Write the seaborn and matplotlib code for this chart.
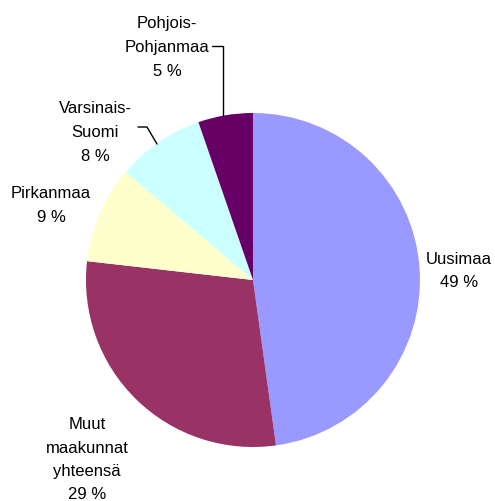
import matplotlib
matplotlib.use("Agg")
import matplotlib.pyplot as plt
import seaborn as sns

# Data
regions = ["Uusimaa", "Muut maakunnat yhteensä", "Pirkanmaa", "Varsinais-Suomi", "Pohjois-Pohjanmaa"]
shares = [47.8, 29.0, 9.4, 8.5, 5.3]
label_lines = [["Uusimaa", "49 %"],
               ["Muut", "maakunnat", "yhteensä", "29 %"],
               ["Pirkanmaa", "9 %"],
               ["Varsinais-", "Suomi", "8 %"],
               ["Pohjois-", "Pohjanmaa", "5 %"]]
colors = ["#9999FF", "#993366", "#FFFFCC", "#CCFFFF", "#660066"]

sns.set_style("white")
plt.rcParams["font.family"] = ["Liberation Sans", "DejaVu Sans"]

W, H = 495, 502
fig = plt.figure(figsize=(W / 100, H / 100), dpi=100)
ax = fig.add_axes([0, 0, 1, 1])

cx, cy, r = 253, 281, 167
ax.pie(shares, colors=colors, startangle=90, counterclock=False,
       center=(cx, H - cy), radius=r, wedgeprops=dict(linewidth=0))

ax.set_xlim(0, W)
ax.set_ylim(0, H)
ax.set_aspect("equal")
ax.axis("off")

# label line positions (pixel coords, y from top)
label_x = [459, 87, 51, 95, 167]
label_ys = [[258, 281], [423, 447, 470, 493], [192, 216], [107, 131, 155], [22, 46, 70]]
for lines, x, ys in zip(label_lines, label_x, label_ys):
    for line, y in zip(lines, ys):
        ax.text(x, H - y, line, ha="center", va="center_baseline", fontsize=12,
                color="black")

# leader lines
ax.plot([212, 223, 223], [H - 47, H - 47, H - 117], color="black", lw=1)
ax.plot([138, 147, 157], [H - 128, H - 128, H - 145], color="black", lw=1)

fig.savefig("out.png", dpi=100)
